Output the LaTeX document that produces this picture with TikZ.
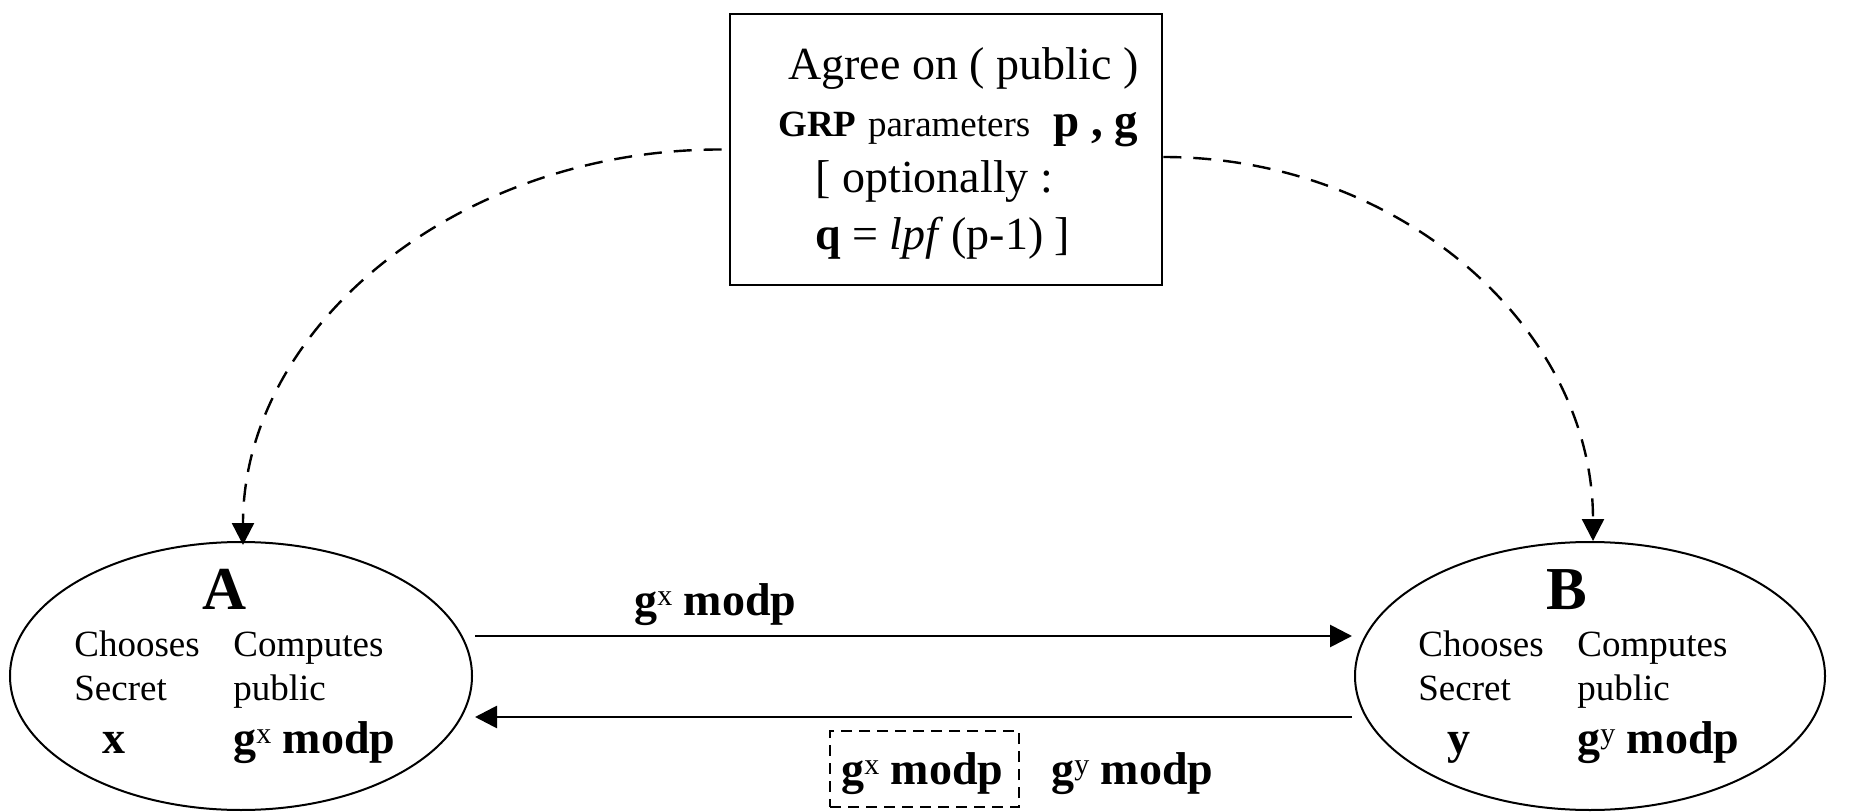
\documentclass[tikz,border=0pt]{standalone}
\usepackage{fontspec}
\setmainfont{Liberation Serif}
\usetikzlibrary{arrows.meta,shapes.geometric}
\newcommand{\gpow}[1]{g\raisebox{4.8pt}{\fontsize{15}{15}\selectfont\mdseries #1}}
\begin{document}
\begin{tikzpicture}[x=0.5pt,y=-0.5pt,
  big/.style={font=\fontsize{23}{23}\selectfont, inner sep=0, anchor=base west},
  small/.style={font=\fontsize{18.5}{18.5}\selectfont, inner sep=0, anchor=base west},
  bold/.style={font=\fontsize{23}{23}\selectfont\bfseries, inner sep=0, anchor=base west},
  party/.style={ellipse, draw, line width=1pt, inner sep=0},
  flow/.style={line width=1.4pt, -{Triangle[length=11pt,width=11pt]}},
  dflow/.style={line width=1.2pt, dash pattern=on 9pt off 6pt, -{Triangle[length=11pt,width=11pt]}},
  dbox/.style={draw, line width=1.1pt, dash pattern=on 5.5pt off 3.5pt, inner sep=0}
]
\useasboundingbox (0,0) rectangle (1858,812);

% top parameter box
\node[draw, line width=1.3pt, minimum width=216pt, minimum height=135.5pt, inner sep=0] (params) at (946,149.5) {};
\node[big] (t1) at (788,80) {Agree on ( public )};
\node[big] (t2) at (778,137) {{\fontsize{18.5}{18.5}\selectfont\bfseries GRP} {\fontsize{18.5}{18.5}\selectfont parameters}\ \ {\fontsize{23.5}{23.5}\selectfont\bfseries p , g}};
\node[big] (t3) at (815,193) {[ optionally :};
\node[big] (t4) at (815,250) {\textbf{q} = \textit{lpf\/}\,(p-1) ]};

% parties
\node[party, minimum width=231pt, minimum height=134pt] (A) at (241,676) {};
\node[party, minimum width=235pt, minimum height=134pt] (B) at (1590,676) {};

\node[font=\fontsize{30.5}{30.5}\selectfont\bfseries, inner sep=0, anchor=base] (Aname) at (225,609) {A};
\node[small] (Ach) at (74,656) {Chooses};
\node[small] (Ase) at (74,700) {Secret};
\node[bold] (Ax) at (102,753) {x};
\node[small] (Aco) at (233,656) {Computes};
\node[small] (Apu) at (233,700) {public};
\node[bold] (Agx) at (233,753) {\gpow{x} modp};

\node[font=\fontsize{30.5}{30.5}\selectfont\bfseries, inner sep=0, anchor=base] (Bname) at (1567,609) {B};
\node[small] (Bch) at (1418,656) {Chooses};
\node[small] (Bse) at (1418,700) {Secret};
\node[bold] (By) at (1447,753) {y};
\node[small] (Bco) at (1577,656) {Computes};
\node[small] (Bpu) at (1577,700) {public};
\node[bold] (Bgy) at (1577,753) {\gpow{y} modp};

% messages
\draw[flow] ([shift={(2,-40)}]A.east) -- ([shift={(-2,-40)}]B.west);
\draw[flow] ([shift={(-2,41)}]B.west) -- ([shift={(2,41)}]A.east);
\node[bold] (m1) at (634,615) {\gpow{x} modp};
\node[dbox, minimum width=94.5pt, minimum height=38pt] (gxbox) at (924.5,769) {};
\node[bold] (m2) at (841,784) {\gpow{x} modp};
\node[bold] (m3) at (1051,784) {\gpow{y} modp};

% public parameters distribution
\draw[dflow] ([xshift=-3.5pt]params.west) .. controls (458,149) and (243,327) .. ([xshift=1pt,yshift=-2pt]A.north);
\draw[dflow] ([yshift=-3.75pt]params.east) .. controls (1400,157) and (1593,328) .. ([xshift=1.5pt]B.north);
\end{tikzpicture}
\end{document}
